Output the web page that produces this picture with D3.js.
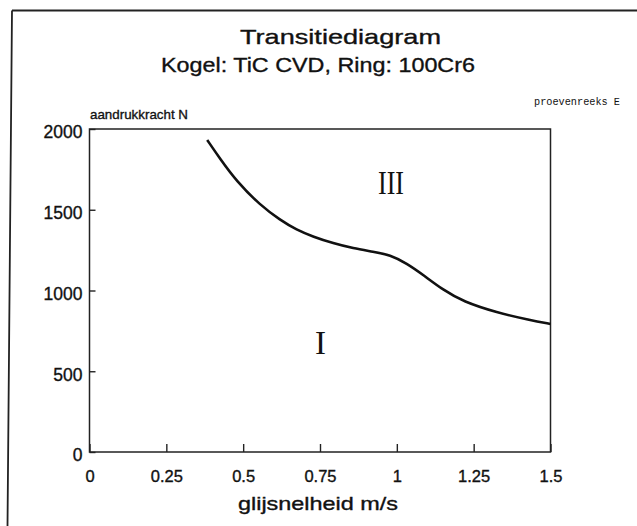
<!DOCTYPE html>
<html>
<head>
<meta charset="utf-8">
<script src="https://cdn.jsdelivr.net/npm/d3@7"></script>
<style>
  body { margin: 0; background: #fff; }
  text { font-family: "Liberation Sans", Arial, sans-serif; fill: #111; }
  .ink { stroke: #111; stroke-width: 0.35px; }
</style>
</head>
<body>
<script>
// boundary curve
var speed = [0.383, 0.425, 0.479, 0.555, 0.620, 0.674, 0.728, 0.793, 0.858, 0.924, 0.978, 1.032, 1.086, 1.151, 1.216, 1.325, 1.433, 1.5];
var force = [1932, 1815, 1675, 1529, 1437, 1375, 1333, 1292, 1261, 1240, 1220, 1168, 1096, 1003, 931, 863, 817, 793];
var xTicks = [0, 0.25, 0.5, 0.75, 1, 1.25, 1.5];
var yTicks = [0, 500, 1000, 1500, 2000];
var regions = [{label: "III", v: 0.981, f: 1595}, {label: "I", v: 0.752, f: 607}];

var W = 637, H = 526;
var svg = d3.select("body").append("svg").attr("width", W).attr("height", H);

// scanned page frame
svg.append("path").attr("d", "M12,10.5 L637,10.5 M12,10.5 L7.5,526")
  .attr("fill", "none").attr("stroke", "#222").attr("stroke-width", 1.8);

var x = d3.scaleLinear().domain([0, 1.5]).range([89.5, 550.5]);
var y = d3.scaleLinear().domain([0, 2000]).range([452, 129]);

svg.append("text").attr("class", "ink").attr("x", 240).attr("y", 44).attr("font-size", 21)
  .attr("textLength", 201).attr("lengthAdjust", "spacingAndGlyphs").text("Transitiediagram");
svg.append("text").attr("class", "ink").attr("x", 161).attr("y", 72).attr("font-size", 21)
  .attr("textLength", 314).attr("lengthAdjust", "spacingAndGlyphs").text("Kogel: TiC CVD, Ring: 100Cr6");
svg.append("text").attr("x", 534).attr("y", 105).attr("font-size", 10)
  .style("font-family", "'Liberation Mono', monospace")
  .attr("textLength", 86).attr("lengthAdjust", "spacingAndGlyphs").text("proevenreeks E");
svg.append("text").attr("class", "ink").attr("x", 90).attr("y", 119).attr("font-size", 13.5)
  .attr("textLength", 98).attr("lengthAdjust", "spacingAndGlyphs").text("aandrukkracht N");
svg.append("text").attr("class", "ink").attr("x", 238).attr("y", 510).attr("font-size", 18.5)
  .attr("textLength", 160).attr("lengthAdjust", "spacingAndGlyphs").text("glijsnelheid m/s");

// plot box
svg.append("rect").attr("x", x(0)).attr("y", y(2000))
  .attr("width", x(1.5) - x(0)).attr("height", y(0) - y(2000))
  .attr("fill", "none").attr("stroke", "#222").attr("stroke-width", 1.5);

var xAxis = d3.axisBottom(x).tickValues(xTicks).tickSize(-8).tickPadding(18)
  .tickFormat(function(d) { return String(d); });
svg.append("g").attr("transform", "translate(0," + y(0) + ")").call(xAxis)
  .call(function(g) {
    g.select(".domain").remove();
    g.selectAll(".tick line").attr("stroke", "#222").attr("stroke-width", 1.4);
    g.selectAll(".tick text").attr("class", "ink").attr("font-size", 16.5).attr("fill", "#111")
      .style("font-family", "'Liberation Sans', Arial, sans-serif");
  });

var yAxis = d3.axisLeft(y).tickValues(yTicks).tickSize(-6).tickPadding(7).tickFormat(d3.format("d"));
svg.append("g").attr("transform", "translate(" + x(0) + ",0)").call(yAxis)
  .call(function(g) {
    g.select(".domain").remove();
    g.selectAll(".tick line").attr("stroke", "#222").attr("stroke-width", 1.4);
    g.selectAll(".tick text").attr("class", "ink").attr("font-size", 17.5).attr("fill", "#111").attr("dy", "0.5em")
      .style("font-family", "'Liberation Sans', Arial, sans-serif");
  });

var line = d3.line().x(function(d, i) { return x(speed[i]); }).y(function(d) { return y(d); })
  .curve(d3.curveBasis);
svg.append("path").datum(force).attr("d", line)
  .attr("fill", "none").attr("stroke", "#111").attr("stroke-width", 2.6);

svg.selectAll(".region").data(regions).enter().append("text")
  .attr("class", "region")
  .attr("x", function(d) { return x(d.v); }).attr("y", function(d) { return y(d.f); })
  .attr("text-anchor", "middle").attr("font-size", 33)
  .style("font-family", "'Liberation Serif', 'Times New Roman', serif")
  .attr("textLength", function(d) { return d.label.length > 1 ? 26 : null; })
  .attr("lengthAdjust", "spacingAndGlyphs")
  .text(function(d) { return d.label; });
</script>
</body>
</html>
